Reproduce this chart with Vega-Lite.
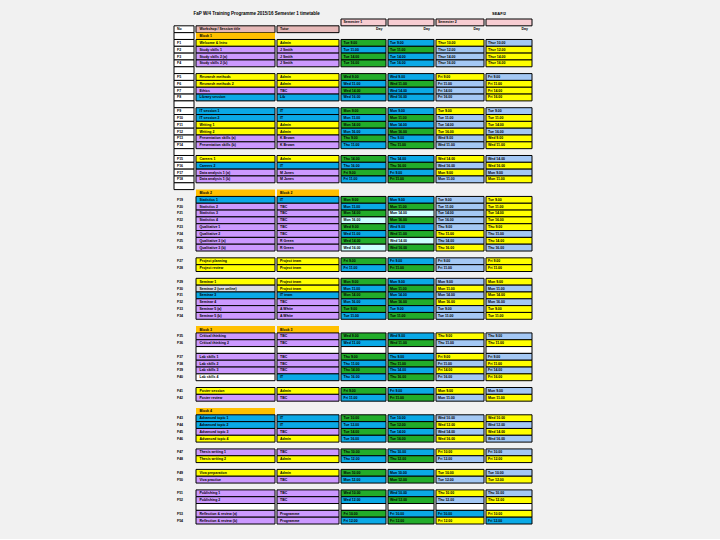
{
"$schema": "https://vega.github.io/schema/vega-lite/v6.json",
"background": "#f1f1f1",
"padding": {"left": 173, "top": 10, "right": 201, "bottom": 14},
"title": {"text": "FaP W/4 Training Programme 2015/16 Semester 1 timetable", "anchor": "start", "fontSize": 4.5, "font": "Liberation Sans", "fontWeight": "bold", "dx": 20, "offset": -3, "color": "#000000"},
"spacing": 0,
"data": {"values": [
{"r":0,"c3":"Q","c4":"Q","c5":"Q","c6":"Q","t3":"Semester 1","t5":"Semester 2","h":"SEAF/2"},
{"r":1,"n":"No","c1":"K","c2":"K","t1":"Workshop / Session title","t2":"Tutor","dh":"Day"},
{"r":2,"c1":"O","t1":"Block 1"},
{"r":3,"n":"F1","c1":"Y","c2":"Y","c3":"G","c4":"B","c5":"Y","c6":"L","t1":"Welcome & Intro","t2":"Admin","t3":"Tue 9.00","t4":"Tue 9.00","t5":"Thur 10.00","t6":"Thur 10.00"},
{"r":4,"n":"F2","c1":"P","c2":"P","c3":"B","c4":"G","c5":"L","c6":"Y","t1":"Study skills 1","t2":"J Smith","t3":"Tue 11.00","t4":"Tue 11.00","t5":"Thur 12.00","t6":"Thur 12.00"},
{"r":5,"n":"F3","c1":"P","c2":"P","c3":"G","c4":"B","c5":"L","c6":"Y","t1":"Study skills 2 (a)","t2":"J Smith","t3":"Tue 14.00","t4":"Tue 14.00","t5":"Thur 14.00","t6":"Thur 14.00"},
{"r":6,"n":"F4","c1":"P","c2":"P","c3":"G","c4":"B","c5":"L","c6":"Y","t1":"Study skills 2 (b)","t2":"J Smith","t3":"Tue 16.00","t4":"Tue 16.00","t5":"Thur 16.00","t6":"Thur 16.00"},
{"r":7},
{"r":8,"n":"F5","c1":"Y","c2":"Y","c3":"G","c4":"B","c5":"Y","c6":"L","t1":"Research methods","t2":"Admin","t3":"Wed 9.00","t4":"Wed 9.00","t5":"Fri 9.00","t6":"Fri 9.00"},
{"r":9,"n":"F6","c1":"Y","c2":"Y","c3":"B","c4":"G","c5":"L","c6":"Y","t1":"Research methods 2","t2":"Admin","t3":"Wed 11.00","t4":"Wed 11.00","t5":"Fri 11.00","t6":"Fri 11.00"},
{"r":10,"n":"F7","c1":"P","c2":"P","c3":"G","c4":"B","c5":"L","c6":"Y","t1":"Ethics","t2":"TBC","t3":"Wed 14.00","t4":"Wed 14.00","t5":"Fri 14.00","t6":"Fri 14.00"},
{"r":11,"n":"F8","c1":"B","c2":"B","c3":"B","c4":"B","c5":"L","c6":"Y","t1":"Library session","t2":"Lib","t3":"Wed 16.00","t4":"Wed 16.00","t5":"Fri 16.00","t6":"Fri 16.00"},
{"r":12},
{"r":13,"n":"F9","c1":"B","c2":"B","c3":"G","c4":"B","c5":"Y","c6":"L","t1":"IT session 1","t2":"IT","t3":"Mon 9.00","t4":"Mon 9.00","t5":"Tue 9.00","t6":"Tue 9.00"},
{"r":14,"n":"F10","c1":"B","c2":"B","c3":"B","c4":"G","c5":"L","c6":"Y","t1":"IT session 2","t2":"IT","t3":"Mon 11.00","t4":"Mon 11.00","t5":"Tue 11.00","t6":"Tue 11.00"},
{"r":15,"n":"F11","c1":"Y","c2":"Y","c3":"G","c4":"B","c5":"L","c6":"Y","t1":"Writing 1","t2":"Admin","t3":"Mon 14.00","t4":"Mon 14.00","t5":"Tue 14.00","t6":"Tue 14.00"},
{"r":16,"n":"F12","c1":"Y","c2":"Y","c3":"B","c4":"G","c5":"Y","c6":"L","t1":"Writing 2","t2":"Admin","t3":"Mon 16.00","t4":"Mon 16.00","t5":"Tue 16.00","t6":"Tue 16.00"},
{"r":17,"n":"F13","c1":"P","c2":"P","c3":"G","c4":"B","c5":"L","c6":"Y","t1":"Presentation skills (a)","t2":"K Brown","t3":"Thu 9.00","t4":"Thu 9.00","t5":"Wed 9.00","t6":"Wed 9.00"},
{"r":18,"n":"F14","c1":"P","c2":"P","c3":"B","c4":"G","c5":"L","c6":"Y","t1":"Presentation skills (b)","t2":"K Brown","t3":"Thu 11.00","t4":"Thu 11.00","t5":"Wed 11.00","t6":"Wed 11.00"},
{"r":19},
{"r":20,"n":"F15","c1":"Y","c2":"Y","c3":"G","c4":"B","c5":"Y","c6":"L","t1":"Careers 1","t2":"Admin","t3":"Thu 14.00","t4":"Thu 14.00","t5":"Wed 14.00","t6":"Wed 14.00"},
{"r":21,"n":"F16","c1":"B","c2":"B","c3":"B","c4":"G","c5":"L","c6":"Y","t1":"Careers 2","t2":"IT","t3":"Thu 16.00","t4":"Thu 16.00","t5":"Wed 16.00","t6":"Wed 16.00"},
{"r":22,"n":"F17","c1":"P","c2":"P","c3":"G","c4":"B","c5":"Y","c6":"L","t1":"Data analysis 1 (a)","t2":"M Jones","t3":"Fri 9.00","t4":"Fri 9.00","t5":"Mon 9.00","t6":"Mon 9.00"},
{"r":23,"n":"F18","c1":"P","c2":"P","c3":"B","c4":"G","c5":"L","c6":"Y","t1":"Data analysis 1 (b)","t2":"M Jones","t3":"Fri 11.00","t4":"Fri 11.00","t5":"Mon 11.00","t6":"Mon 11.00"},
{"r":24},
{"r":25,"c1":"O","c2":"O","t1":"Block 2","t2":"Block 2"},
{"r":26,"n":"F19","c1":"B","c2":"B","c3":"G","c4":"B","c5":"L","c6":"Y","t1":"Statistics 1","t2":"IT","t3":"Mon 9.00","t4":"Mon 9.00","t5":"Tue 9.00","t6":"Tue 9.00"},
{"r":27,"n":"F20","c1":"P","c2":"P","c3":"B","c4":"G","c5":"L","c6":"Y","t1":"Statistics 2","t2":"TBC","t3":"Mon 11.00","t4":"Mon 11.00","t5":"Tue 11.00","t6":"Tue 11.00"},
{"r":28,"n":"F21","c1":"P","c2":"P","c3":"G","c4":"C","c5":"L","c6":"Y","t1":"Statistics 3","t2":"TBC","t3":"Mon 14.00","t4":"Mon 14.00","t5":"Tue 14.00","t6":"Tue 14.00"},
{"r":29,"n":"F22","c1":"P","c2":"P","c3":"C","c4":"G","c5":"L","c6":"Y","t1":"Statistics 4","t2":"TBC","t3":"Mon 16.00","t4":"Mon 16.00","t5":"Tue 16.00","t6":"Tue 16.00"},
{"r":30,"n":"F23","c1":"P","c2":"P","c3":"G","c4":"B","c5":"L","c6":"Y","t1":"Qualitative 1","t2":"TBC","t3":"Wed 9.00","t4":"Wed 9.00","t5":"Thu 9.00","t6":"Thu 9.00"},
{"r":31,"n":"F24","c1":"P","c2":"P","c3":"B","c4":"G","c5":"Y","c6":"L","t1":"Qualitative 2","t2":"TBC","t3":"Wed 11.00","t4":"Wed 11.00","t5":"Thu 11.00","t6":"Thu 11.00"},
{"r":32,"n":"F25","c1":"P","c2":"P","c3":"G","c4":"C","c5":"L","c6":"Y","t1":"Qualitative 3 (a)","t2":"R Green","t3":"Wed 14.00","t4":"Wed 14.00","t5":"Thu 14.00","t6":"Thu 14.00"},
{"r":33,"n":"F26","c1":"P","c2":"P","c3":"C","c4":"G","c5":"Y","c6":"L","t1":"Qualitative 3 (b)","t2":"R Green","t3":"Wed 16.00","t4":"Wed 16.00","t5":"Thu 16.00","t6":"Thu 16.00"},
{"r":35,"n":"F27","c1":"Y","c2":"Y","c3":"G","c4":"B","c5":"L","c6":"Y","t1":"Project planning","t2":"Project team","t3":"Fri 9.00","t4":"Fri 9.00","t5":"Fri 9.00","t6":"Fri 9.00"},
{"r":36,"n":"F28","c1":"Y","c2":"Y","c3":"B","c4":"G","c5":"L","c6":"Y","t1":"Project review","t2":"Project team","t3":"Fri 11.00","t4":"Fri 11.00","t5":"Fri 11.00","t6":"Fri 11.00"},
{"r":38,"n":"F29","c1":"Y","c2":"Y","c3":"G","c4":"B","c5":"L","c6":"Y","t1":"Seminar 1","t2":"Project team","t3":"Mon 9.00","t4":"Mon 9.00","t5":"Mon 9.00","t6":"Mon 9.00"},
{"r":39,"n":"F30","c1":"S","c2":"Y","c3":"B","c4":"G","c5":"Y","c6":"L","t1":"Seminar 2 (see online)","t2":"Project team","t3":"Mon 11.00","t4":"Mon 11.00","t5":"Mon 11.00","t6":"Mon 11.00"},
{"r":40,"n":"F31","c1":"B","c2":"B","c3":"G","c4":"B","c5":"L","c6":"Y","t1":"Seminar 3","t2":"IT team","t3":"Mon 14.00","t4":"Mon 14.00","t5":"Mon 14.00","t6":"Mon 14.00"},
{"r":41,"n":"F32","c1":"P","c2":"P","c3":"B","c4":"G","c5":"Y","c6":"L","t1":"Seminar 4","t2":"TBC","t3":"Mon 16.00","t4":"Mon 16.00","t5":"Mon 16.00","t6":"Mon 16.00"},
{"r":42,"n":"F33","c1":"P","c2":"P","c3":"G","c4":"B","c5":"L","c6":"Y","t1":"Seminar 5 (a)","t2":"A White","t3":"Tue 9.00","t4":"Tue 9.00","t5":"Tue 9.00","t6":"Tue 9.00"},
{"r":43,"n":"F34","c1":"P","c2":"P","c3":"B","c4":"G","c5":"L","c6":"Y","t1":"Seminar 5 (b)","t2":"A White","t3":"Tue 11.00","t4":"Tue 11.00","t5":"Tue 11.00","t6":"Tue 11.00"},
{"r":45,"c1":"O","c2":"O","t1":"Block 3","t2":"Block 3"},
{"r":46,"n":"F35","c1":"P","c2":"P","c3":"G","c4":"B","c5":"Y","c6":"L","t1":"Critical thinking","t2":"TBC","t3":"Wed 9.00","t4":"Wed 9.00","t5":"Thu 9.00","t6":"Thu 9.00"},
{"r":47,"n":"F36","c1":"P","c2":"P","c3":"B","c4":"G","c5":"L","c6":"Y","t1":"Critical thinking 2","t2":"TBC","t3":"Wed 11.00","t4":"Wed 11.00","t5":"Thu 11.00","t6":"Thu 11.00"},
{"r":48,"c1":"W","c2":"W","c3":"W","c4":"W","c5":"W","c6":"W"},
{"r":49,"n":"F37","c1":"P","c2":"P","c3":"G","c4":"B","c5":"Y","c6":"L","t1":"Lab skills 1","t2":"TBC","t3":"Thu 9.00","t4":"Thu 9.00","t5":"Fri 9.00","t6":"Fri 9.00"},
{"r":50,"n":"F38","c1":"P","c2":"P","c3":"B","c4":"G","c5":"L","c6":"Y","t1":"Lab skills 2","t2":"TBC","t3":"Thu 11.00","t4":"Thu 11.00","t5":"Fri 11.00","t6":"Fri 11.00"},
{"r":51,"n":"F39","c1":"P","c2":"P","c3":"G","c4":"B","c5":"Y","c6":"L","t1":"Lab skills 3","t2":"TBC","t3":"Thu 14.00","t4":"Thu 14.00","t5":"Fri 14.00","t6":"Fri 14.00"},
{"r":52,"n":"F40","c1":"W","c2":"B","c3":"B","c4":"G","c5":"L","c6":"Y","t1":"Lab skills 4","t2":"IT","t3":"Thu 16.00","t4":"Thu 16.00","t5":"Fri 16.00","t6":"Fri 16.00"},
{"r":54,"n":"F41","c1":"Y","c2":"Y","c3":"G","c4":"B","c5":"Y","c6":"L","t1":"Poster session","t2":"Admin","t3":"Fri 9.00","t4":"Fri 9.00","t5":"Mon 9.00","t6":"Mon 9.00"},
{"r":55,"n":"F42","c1":"P","c2":"P","c3":"B","c4":"G","c5":"L","c6":"Y","t1":"Poster review","t2":"TBC","t3":"Fri 11.00","t4":"Fri 11.00","t5":"Mon 11.00","t6":"Mon 11.00"},
{"r":57,"c1":"O","t1":"Block 4"},
{"r":58,"n":"F43","c1":"B","c2":"B","c3":"G","c4":"B","c5":"L","c6":"Y","t1":"Advanced topic 1","t2":"IT","t3":"Tue 10.00","t4":"Tue 10.00","t5":"Wed 10.00","t6":"Wed 10.00"},
{"r":59,"n":"F44","c1":"B","c2":"B","c3":"B","c4":"G","c5":"Y","c6":"L","t1":"Advanced topic 2","t2":"IT","t3":"Tue 12.00","t4":"Tue 12.00","t5":"Wed 12.00","t6":"Wed 12.00"},
{"r":60,"n":"F45","c1":"P","c2":"P","c3":"G","c4":"B","c5":"L","c6":"Y","t1":"Advanced topic 3","t2":"TBC","t3":"Tue 14.00","t4":"Tue 14.00","t5":"Wed 14.00","t6":"Wed 14.00"},
{"r":61,"n":"F46","c1":"Y","c2":"Y","c3":"B","c4":"G","c5":"Y","c6":"L","t1":"Advanced topic 4","t2":"Admin","t3":"Tue 16.00","t4":"Tue 16.00","t5":"Wed 16.00","t6":"Wed 16.00"},
{"r":63,"n":"F47","c1":"P","c2":"P","c3":"G","c4":"B","c5":"Y","c6":"L","t1":"Thesis writing 1","t2":"TBC","t3":"Thu 10.00","t4":"Thu 10.00","t5":"Fri 10.00","t6":"Fri 10.00"},
{"r":64,"n":"F48","c1":"Y","c2":"Y","c3":"B","c4":"G","c5":"L","c6":"Y","t1":"Thesis writing 2","t2":"Admin","t3":"Thu 12.00","t4":"Thu 12.00","t5":"Fri 12.00","t6":"Fri 12.00"},
{"r":66,"n":"F49","c1":"Y","c2":"Y","c3":"G","c4":"B","c5":"Y","c6":"L","t1":"Viva preparation","t2":"Admin","t3":"Mon 10.00","t4":"Mon 10.00","t5":"Tue 10.00","t6":"Tue 10.00"},
{"r":67,"n":"F50","c1":"P","c2":"P","c3":"B","c4":"G","c5":"L","c6":"Y","t1":"Viva practice","t2":"TBC","t3":"Mon 12.00","t4":"Mon 12.00","t5":"Tue 12.00","t6":"Tue 12.00"},
{"r":69,"n":"F51","c1":"P","c2":"P","c3":"G","c4":"B","c5":"Y","c6":"L","t1":"Publishing 1","t2":"TBC","t3":"Wed 10.00","t4":"Wed 10.00","t5":"Thu 10.00","t6":"Thu 10.00"},
{"r":70,"n":"F52","c1":"P","c2":"P","c3":"B","c4":"G","c5":"L","c6":"Y","t1":"Publishing 2","t2":"TBC","t3":"Wed 12.00","t4":"Wed 12.00","t5":"Thu 12.00","t6":"Thu 12.00"},
{"r":71,"c1":"W","c2":"W","c3":"W","c4":"W","c5":"W","c6":"W"},
{"r":72,"n":"F53","c1":"P","c2":"P","c3":"G","c4":"B","c5":"B","c6":"Y","t1":"Reflection & review (a)","t2":"Programme","t3":"Fri 10.00","t4":"Fri 10.00","t5":"Fri 10.00","t6":"Fri 10.00"},
{"r":73,"n":"F54","c1":"P","c2":"P","c3":"B","c4":"G","c5":"Y","c6":"B","t1":"Reflection & review (b)","t2":"Programme","t3":"Fri 12.00","t4":"Fri 12.00","t5":"Fri 12.00","t6":"Fri 12.00"}
]},
"hconcat": [
{"width": 20, "height": 505,
 "encoding": {"y": {"field": "r", "type": "ordinal", "axis": null, "scale": {"domain": [0,1,2,3,4,5,6,7,8,9,10,11,12,13,14,15,16,17,18,19,20,21,22,23,24,25,26,27,28,29,30,31,32,33,34,35,36,37,38,39,40,41,42,43,44,45,46,47,48,49,50,51,52,53,54,55,56,57,58,59,60,61,62,63,64,65,66,67,68,69,70,71,72,73], "paddingInner": 0, "paddingOuter": 0}}},
 "layer": [
  {"transform": [{"filter": "datum.r >= 1 && datum.r <= 24"}],
   "mark": {"type": "rect", "fill": "#ffffff", "stroke": "#000000", "strokeWidth": 1}},
  {"transform": [{"filter": "isValid(datum.n)"}],
   "mark": {"type": "text", "align": "left", "dx": -7, "fontSize": 3.5, "font": "Liberation Sans", "fontWeight": "bold", "color": "#000000"},
   "encoding": {"text": {"field": "n"}}}
 ]},
{"width": 79, "height": 505,
 "encoding": {"y": {"field": "r", "type": "ordinal", "axis": null, "scale": {"domain": [0,1,2,3,4,5,6,7,8,9,10,11,12,13,14,15,16,17,18,19,20,21,22,23,24,25,26,27,28,29,30,31,32,33,34,35,36,37,38,39,40,41,42,43,44,45,46,47,48,49,50,51,52,53,54,55,56,57,58,59,60,61,62,63,64,65,66,67,68,69,70,71,72,73], "paddingInner": 0, "paddingOuter": 0}}},
 "layer": [
  {"transform": [{"filter": "isValid(datum.c1)"}],
   "mark": {"type": "rect", "strokeWidth": 1},
   "encoding": {"color": {"field": "c1", "type": "nominal", "legend": null, "scale": {"domain": ["Y","P","G","B","L","O","K","Q","C","W","S"], "range": ["#ffff00","#cc99ff","#22ac2a","#0aa9e6","#a4c8f4","#ffc000","#e6b9b8","#f7cdd2","#ccffff","#ffffff","#dcdce4"]}},
                "stroke": {"condition": {"test": "datum.c1 == 'O'", "value": "transparent"}, "value": "#000000"}}},
  {"transform": [{"filter": "isValid(datum.t1)"}],
   "mark": {"type": "text", "align": "left", "dx": -36, "fontSize": 3.5, "font": "Liberation Sans", "fontWeight": "bold", "color": "#000000"},
   "encoding": {"text": {"field": "t1"}}}
 ]},
{"width": 62, "height": 505,
 "encoding": {"y": {"field": "r", "type": "ordinal", "axis": null, "scale": {"domain": [0,1,2,3,4,5,6,7,8,9,10,11,12,13,14,15,16,17,18,19,20,21,22,23,24,25,26,27,28,29,30,31,32,33,34,35,36,37,38,39,40,41,42,43,44,45,46,47,48,49,50,51,52,53,54,55,56,57,58,59,60,61,62,63,64,65,66,67,68,69,70,71,72,73], "paddingInner": 0, "paddingOuter": 0}}},
 "layer": [
  {"transform": [{"filter": "isValid(datum.c2)"}],
   "mark": {"type": "rect", "strokeWidth": 1},
   "encoding": {"color": {"field": "c2", "type": "nominal", "legend": null, "scale": {"domain": ["Y","P","G","B","L","O","K","Q","C","W","S"], "range": ["#ffff00","#cc99ff","#22ac2a","#0aa9e6","#a4c8f4","#ffc000","#e6b9b8","#f7cdd2","#ccffff","#ffffff","#dcdce4"]}},
                "stroke": {"condition": {"test": "datum.c2 == 'O'", "value": "transparent"}, "value": "#000000"}}},
  {"transform": [{"filter": "isValid(datum.t2)"}],
   "mark": {"type": "text", "align": "left", "dx": -28, "fontSize": 3.5, "font": "Liberation Sans", "fontWeight": "bold", "color": "#000000"},
   "encoding": {"text": {"field": "t2"}}}
 ]},
{"width": 45, "height": 505,
 "encoding": {"y": {"field": "r", "type": "ordinal", "axis": null, "scale": {"domain": [0,1,2,3,4,5,6,7,8,9,10,11,12,13,14,15,16,17,18,19,20,21,22,23,24,25,26,27,28,29,30,31,32,33,34,35,36,37,38,39,40,41,42,43,44,45,46,47,48,49,50,51,52,53,54,55,56,57,58,59,60,61,62,63,64,65,66,67,68,69,70,71,72,73], "paddingInner": 0, "paddingOuter": 0}}},
 "layer": [
  {"transform": [{"filter": "isValid(datum.c3)"}],
   "mark": {"type": "rect", "strokeWidth": 1, "stroke": "#000000"},
   "encoding": {"color": {"field": "c3", "type": "nominal", "legend": null, "scale": {"domain": ["Y","P","G","B","L","O","K","Q","C","W","S"], "range": ["#ffff00","#cc99ff","#22ac2a","#0aa9e6","#a4c8f4","#ffc000","#e6b9b8","#f7cdd2","#ccffff","#ffffff","#dcdce4"]}}}},
  {"transform": [{"filter": "isValid(datum.t3)"}],
   "mark": {"type": "text", "align": "left", "dx": -20, "fontSize": 3.5, "font": "Liberation Sans", "fontWeight": "bold", "color": "#000000"},
   "encoding": {"text": {"field": "t3"}}},
  {"transform": [{"filter": "isValid(datum.dh)"}],
   "mark": {"type": "text", "align": "right", "dx": 19, "fontSize": 3.5, "font": "Liberation Sans", "fontWeight": "bold", "color": "#000000"},
   "encoding": {"text": {"field": "dh"}}}
 ]},
{"width": 46, "height": 505,
 "encoding": {"y": {"field": "r", "type": "ordinal", "axis": null, "scale": {"domain": [0,1,2,3,4,5,6,7,8,9,10,11,12,13,14,15,16,17,18,19,20,21,22,23,24,25,26,27,28,29,30,31,32,33,34,35,36,37,38,39,40,41,42,43,44,45,46,47,48,49,50,51,52,53,54,55,56,57,58,59,60,61,62,63,64,65,66,67,68,69,70,71,72,73], "paddingInner": 0, "paddingOuter": 0}}},
 "layer": [
  {"transform": [{"filter": "isValid(datum.c4)"}],
   "mark": {"type": "rect", "strokeWidth": 1, "stroke": "#000000"},
   "encoding": {"color": {"field": "c4", "type": "nominal", "legend": null, "scale": {"domain": ["Y","P","G","B","L","O","K","Q","C","W","S"], "range": ["#ffff00","#cc99ff","#22ac2a","#0aa9e6","#a4c8f4","#ffc000","#e6b9b8","#f7cdd2","#ccffff","#ffffff","#dcdce4"]}}}},
  {"transform": [{"filter": "isValid(datum.t4)"}],
   "mark": {"type": "text", "align": "left", "dx": -21, "fontSize": 3.5, "font": "Liberation Sans", "fontWeight": "bold", "color": "#000000"},
   "encoding": {"text": {"field": "t4"}}},
  {"transform": [{"filter": "isValid(datum.dh)"}],
   "mark": {"type": "text", "align": "right", "dx": 19, "fontSize": 3.5, "font": "Liberation Sans", "fontWeight": "bold", "color": "#000000"},
   "encoding": {"text": {"field": "dh"}}}
 ]},
{"width": 48, "height": 505,
 "encoding": {"y": {"field": "r", "type": "ordinal", "axis": null, "scale": {"domain": [0,1,2,3,4,5,6,7,8,9,10,11,12,13,14,15,16,17,18,19,20,21,22,23,24,25,26,27,28,29,30,31,32,33,34,35,36,37,38,39,40,41,42,43,44,45,46,47,48,49,50,51,52,53,54,55,56,57,58,59,60,61,62,63,64,65,66,67,68,69,70,71,72,73], "paddingInner": 0, "paddingOuter": 0}}},
 "layer": [
  {"transform": [{"filter": "isValid(datum.c5)"}],
   "mark": {"type": "rect", "strokeWidth": 1, "stroke": "#000000"},
   "encoding": {"color": {"field": "c5", "type": "nominal", "legend": null, "scale": {"domain": ["Y","P","G","B","L","O","K","Q","C","W","S"], "range": ["#ffff00","#cc99ff","#22ac2a","#0aa9e6","#a4c8f4","#ffc000","#e6b9b8","#f7cdd2","#ccffff","#ffffff","#dcdce4"]}}}},
  {"transform": [{"filter": "isValid(datum.t5)"}],
   "mark": {"type": "text", "align": "left", "dx": -22, "fontSize": 3.5, "font": "Liberation Sans", "fontWeight": "bold", "color": "#000000"},
   "encoding": {"text": {"field": "t5"}}},
  {"transform": [{"filter": "isValid(datum.dh)"}],
   "mark": {"type": "text", "align": "right", "dx": 20, "fontSize": 3.5, "font": "Liberation Sans", "fontWeight": "bold", "color": "#000000"},
   "encoding": {"text": {"field": "dh"}}}
 ]},
{"width": 46, "height": 505,
 "encoding": {"y": {"field": "r", "type": "ordinal", "axis": null, "scale": {"domain": [0,1,2,3,4,5,6,7,8,9,10,11,12,13,14,15,16,17,18,19,20,21,22,23,24,25,26,27,28,29,30,31,32,33,34,35,36,37,38,39,40,41,42,43,44,45,46,47,48,49,50,51,52,53,54,55,56,57,58,59,60,61,62,63,64,65,66,67,68,69,70,71,72,73], "paddingInner": 0, "paddingOuter": 0}}},
 "layer": [
  {"transform": [{"filter": "isValid(datum.c6)"}],
   "mark": {"type": "rect", "strokeWidth": 1, "stroke": "#000000"},
   "encoding": {"color": {"field": "c6", "type": "nominal", "legend": null, "scale": {"domain": ["Y","P","G","B","L","O","K","Q","C","W","S"], "range": ["#ffff00","#cc99ff","#22ac2a","#0aa9e6","#a4c8f4","#ffc000","#e6b9b8","#f7cdd2","#ccffff","#ffffff","#dcdce4"]}}}},
  {"transform": [{"filter": "isValid(datum.t6)"}],
   "mark": {"type": "text", "align": "left", "dx": -21, "fontSize": 3.5, "font": "Liberation Sans", "fontWeight": "bold", "color": "#000000"},
   "encoding": {"text": {"field": "t6"}}},
  {"transform": [{"filter": "isValid(datum.dh)"}],
   "mark": {"type": "text", "align": "right", "dx": 19, "fontSize": 3.5, "font": "Liberation Sans", "fontWeight": "bold", "color": "#000000"},
   "encoding": {"text": {"field": "dh"}}},
  {"transform": [{"filter": "isValid(datum.h)"}],
   "mark": {"type": "text", "align": "left", "dx": -17, "dy": -8, "fontSize": 4, "font": "Liberation Sans", "fontWeight": "bold", "color": "#000000"},
   "encoding": {"text": {"field": "h"}}}
 ]}
],
"config": {"view": {"stroke": null}, "concat": {"spacing": 0}}
}
